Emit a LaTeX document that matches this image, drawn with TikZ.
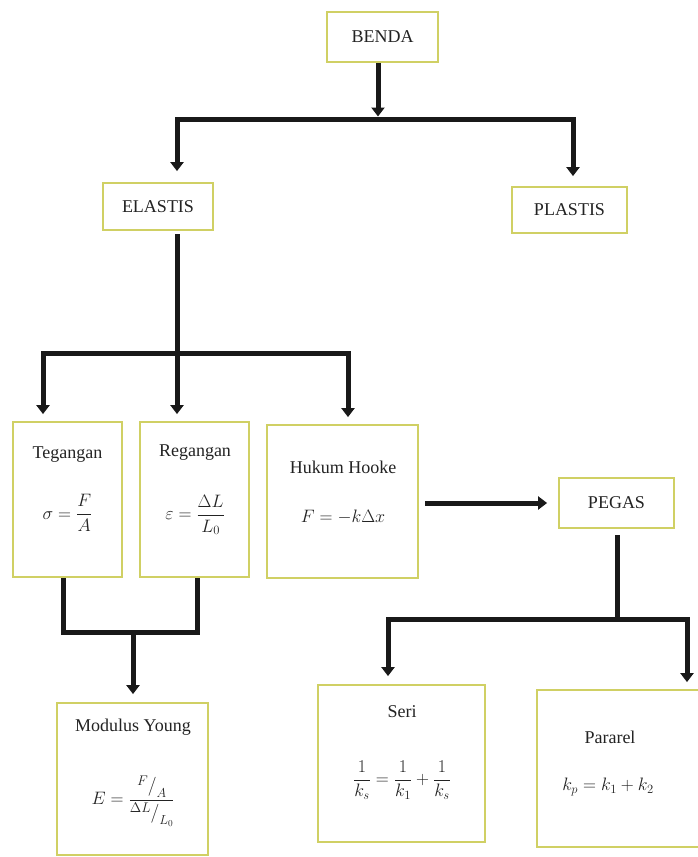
\RequirePackage{fix-cm}
\documentclass[tikz,border=0pt]{standalone}
\usepackage{amsmath}
\usepackage{fontspec}
\setmainfont{Liberation Serif}
\usetikzlibrary{arrows.meta}
\definecolor{boxcol}{RGB}{208,208,100}
\definecolor{ink}{RGB}{35,35,35}
\newcommand{\skf}[2]{\raisebox{0.6ex}{\fontsize{14}{16}\selectfont$#1$}\raisebox{-0.15ex}{\fontsize{19}{21}\selectfont$/$}\raisebox{-0.9ex}{\fontsize{13}{15}\selectfont$#2$}}
\begin{document}
\begin{tikzpicture}[x=1pt,y=-1pt,
  box/.style={draw=boxcol, line width=1.8pt, fill=white, inner sep=0pt},
  lbl/.style={font=\fontsize{18}{22}\selectfont, text=ink, inner sep=0pt},
  conn/.style={line width=5pt, draw=black!90, line cap=rect},
  arr/.style={line width=5pt, draw=black!90, -{Triangle[width=13pt,length=9pt]}},
]
\useasboundingbox[fill=white] (0,0) rectangle (697,857);

% boxes
\node[box, lbl, minimum width=111pt, minimum height=50pt] (benda) at (382.5,37) {BENDA};
\node[box, lbl, minimum width=110pt, minimum height=47pt] (elastis) at (158,206.5) {ELASTIS};
\node[box, lbl, minimum width=115pt, minimum height=46pt] (plastis) at (569.5,210) {PLASTIS};
\node[box, minimum width=109pt, minimum height=155pt] (teg) at (67.5,499.5) {};
\node[box, minimum width=109pt, minimum height=155pt] (reg) at (194.5,499.5) {};
\node[box, minimum width=151pt, minimum height=153pt] (hooke) at (342.5,501.5) {};
\node[box, lbl, minimum width=115pt, minimum height=50pt] (pegas) at (616.5,503) {PEGAS};
\node[box, minimum width=151pt, minimum height=152pt] (young) at (132.5,779) {};
\node[box, minimum width=167pt, minimum height=157pt] (seri) at (401.5,763.5) {};
\node[box, minimum width=165pt, minimum height=157pt] (pararel) at (619.5,768.5) {};

% box texts
\node[lbl] (tegT) at (67.5,455) {Tegangan};
\node[lbl] (tegF) at (67.5,513) {$\sigma=\dfrac{F}{A}$};
\node[lbl] (regT) at (195,453) {Regangan};
\node[lbl] (regF) at (195,515) {$\varepsilon=\dfrac{\Delta L}{L_0}$};
\node[lbl] (hookeT) at (343,467) {Hukum Hooke};
\node[lbl] (hookeF) at (343,517) {$F=-k\Delta x$};
\node[lbl] (youngT) at (133,727) {Modulus Young};
\node[lbl] (youngF) at (133,801) {$E=\dfrac{\skf{F}{A}}{\skf{\Delta L}{L_0}}$};
\node[lbl] (seriT) at (402,712) {Seri};
\node[lbl] (seriF) at (402,780) {$\dfrac{1}{k_s}=\dfrac{1}{k_1}+\dfrac{1}{k_s}$};
\node[lbl] (pararelT) at (610,737) {Pararel};
\node[lbl] (pararelF) at (608,787) {$k_p=k_1+k_2$};

% BENDA -> ELASTIS / PLASTIS
\coordinate (bc) at (378,119);
\coordinate (bl) at (177,119);
\coordinate (br) at (573,119);
\draw[conn] (bl) -- (br);
\draw[arr] (benda.south -| bc) -- ([yshift=2.5pt]bc);
\draw[arr] (bl) -- ([yshift=11pt]bl |- elastis.north);
\draw[arr] (br) -- ([yshift=10pt]br |- plastis.north);

% ELASTIS -> Tegangan / Regangan / Hooke
\coordinate (ec) at (177,353);
\coordinate (el) at (43,353);
\coordinate (er) at (348,353);
\draw[conn] ([yshift=-6pt]elastis.south -| ec) -- (ec);
\draw[conn] (el) -- (er);
\draw[arr] (el) -- ([yshift=7pt]el |- teg.north);
\draw[arr] (ec) -- ([yshift=7pt]ec |- reg.north);
\draw[arr] (er) -- ([yshift=7pt]er |- hooke.north);

% Tegangan + Regangan -> Modulus Young
\coordinate (tl) at (63,632);
\coordinate (tr) at (197,632);
\coordinate (tc) at (133,632);
\draw[conn] ([yshift=-3pt]teg.south -| tl) -- (tl) -- (tr) -- ([yshift=-3pt]reg.south -| tr);
\draw[arr] (tc) -- ([yshift=8pt]tc |- young.north);

% Hooke -> PEGAS
\coordinate (hp) at (425,503);
\draw[arr] (hp) -- ([xshift=-11pt]pegas.west |- hp);

% PEGAS -> Seri / Pararel
\coordinate (pc) at (617,619);
\coordinate (pl) at (388,619);
\coordinate (pr) at (687,619);
\draw[conn] ([yshift=-9pt]pegas.south -| pc) -- (pc);
\draw[conn] (pl) -- (pr);
\draw[arr] (pl) -- ([yshift=8pt]pl |- seri.north);
\draw[arr] (pr) -- ([yshift=7pt]pr |- pararel.north);
\end{tikzpicture}
\end{document}
